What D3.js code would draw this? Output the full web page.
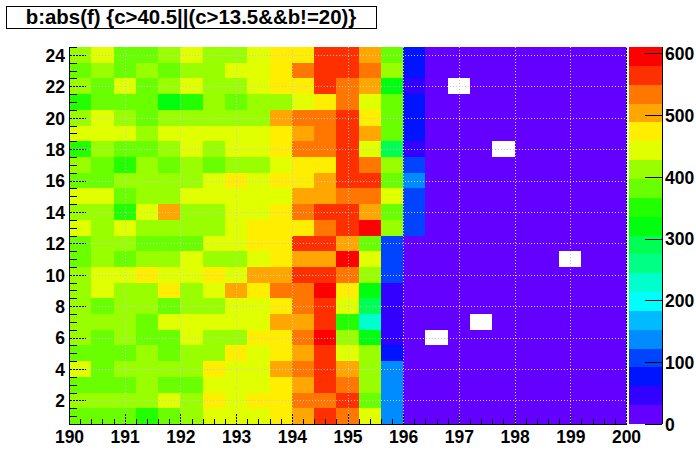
<!DOCTYPE html>
<html>
<head>
<meta charset="utf-8">
<script src="https://cdn.jsdelivr.net/npm/d3@7"></script>
<style>
  body { margin: 0; background: #fff; }
  svg text { font-family: "Liberation Sans", Arial, sans-serif; font-weight: bold; }
</style>
</head>
<body>
<div id="chart"></div>
<script>
const titleText = "b:abs(f) {c>40.5||(c>13.5&&b!=20)}";

// x bins: 25 bins from 190 to 200, y bins: 24 bins from 0.5 to 24.5
const xRange = [190, 200];
const nBinsX = 25;
const yRange = [0.5, 24.5];
const nBinsY = 24;

const xTickLabels = [190, 191, 192, 193, 194, 195, 196, 197, 198, 199, 200];
const yTickLabels = [2, 4, 6, 8, 10, 12, 14, 16, 18, 20, 22, 24];
const zTickLabels = [0, 100, 200, 300, 400, 500, 600];

// bin contents, first row is y = 24, last row is y = 1 (0 = empty bin)
const counts = [
  [409, 441, 384, 377, 415, 438, 406, 412, 446, 471, 476, 566, 560, 505, 379, 72, 18, 14, 16, 12, 15, 17, 13, 15, 11],
  [386, 411, 380, 417, 375, 404, 410, 439, 444, 468, 531, 571, 563, 538, 408, 70, 15, 12, 17, 14, 13, 16, 12, 14, 10],
  [416, 381, 447, 388, 405, 435, 413, 401, 442, 466, 479, 558, 527, 499, 320, 46, 14, 0, 15, 13, 16, 12, 14, 11, 13],
  [352, 377, 385, 372, 318, 349, 414, 383, 407, 419, 449, 470, 536, 436, 389, 78, 16, 13, 12, 15, 14, 11, 17, 13, 12],
  [407, 437, 418, 390, 411, 404, 416, 409, 421, 497, 528, 541, 569, 481, 378, 68, 13, 15, 14, 12, 17, 13, 15, 12, 14],
  [440, 445, 433, 412, 448, 439, 436, 443, 450, 473, 508, 530, 557, 502, 384, 74, 12, 14, 13, 16, 11, 15, 12, 14, 13],
  [347, 415, 379, 386, 410, 447, 406, 437, 441, 465, 534, 527, 572, 440, 291, 43, 15, 13, 14, 0, 12, 16, 13, 15, 12],
  [419, 387, 355, 403, 381, 412, 374, 418, 405, 444, 469, 478, 561, 529, 412, 104, 14, 12, 16, 13, 15, 12, 14, 13, 16],
  [374, 389, 408, 414, 402, 417, 451, 475, 439, 467, 472, 511, 568, 555, 376, 137, 13, 16, 12, 14, 13, 15, 11, 14, 12],
  [443, 435, 382, 409, 413, 440, 445, 431, 447, 449, 506, 499, 540, 531, 437, 108, 16, 13, 15, 12, 14, 13, 16, 12, 15],
  [411, 406, 350, 438, 501, 415, 419, 445, 436, 473, 537, 563, 570, 509, 382, 112, 12, 15, 13, 14, 16, 12, 13, 15, 14],
  [444, 417, 432, 405, 408, 420, 411, 448, 470, 477, 468, 544, 574, 610, 406, 101, 15, 13, 12, 16, 14, 12, 15, 13, 11],
  [380, 413, 419, 377, 391, 386, 440, 434, 476, 464, 567, 559, 504, 388, 99, 14, 12, 15, 13, 16, 14, 12, 13, 15, 14],
  [385, 408, 377, 414, 419, 446, 405, 417, 443, 471, 497, 510, 593, 434, 110, 13, 16, 14, 12, 15, 13, 14, 0, 12, 15],
  [406, 441, 437, 468, 450, 432, 479, 446, 503, 496, 561, 572, 533, 418, 103, 15, 13, 12, 14, 16, 12, 15, 13, 14, 12],
  [420, 434, 409, 413, 480, 402, 448, 511, 466, 539, 526, 598, 474, 322, 48, 12, 14, 13, 15, 12, 16, 13, 14, 12, 13],
  [414, 379, 405, 416, 383, 411, 420, 438, 446, 470, 541, 565, 441, 288, 44, 14, 12, 16, 13, 14, 12, 15, 13, 16, 12],
  [418, 410, 404, 387, 436, 442, 447, 433, 439, 500, 507, 563, 351, 226, 41, 13, 15, 14, 0, 13, 12, 14, 15, 13, 16],
  [403, 386, 415, 374, 390, 449, 408, 419, 468, 481, 535, 601, 410, 317, 47, 12, 0, 13, 15, 14, 12, 16, 13, 12, 14],
  [389, 375, 383, 406, 378, 412, 417, 469, 442, 474, 502, 558, 436, 421, 79, 16, 13, 12, 14, 15, 13, 12, 14, 16, 13],
  [446, 384, 411, 407, 416, 404, 478, 439, 433, 505, 529, 567, 498, 409, 141, 14, 12, 15, 13, 14, 16, 12, 13, 15, 12],
  [376, 388, 381, 412, 373, 390, 437, 444, 441, 470, 509, 562, 532, 415, 133, 13, 15, 12, 16, 13, 14, 12, 15, 13, 14],
  [409, 417, 403, 420, 435, 414, 466, 447, 474, 469, 533, 539, 566, 385, 139, 15, 12, 14, 13, 16, 12, 15, 13, 14, 12],
  [383, 378, 386, 353, 380, 406, 439, 443, 437, 476, 504, 570, 528, 442, 131, 14, 13, 15, 12, 14, 16, 13, 12, 15, 13]
];

const width = 696, height = 472;
const plot = { left: 69, right: 626, top: 47, bottom: 424 };
const nContours = 20;

const svg = d3.select("#chart").append("svg")
  .attr("width", width)
  .attr("height", height);

// ROOT "pretty" palette, 50 colours violet -> red, picked per contour level
function paletteColor(level) {
  const idx = Math.floor((level + 0.99) * 50 / nContours);
  const hue = idx >= 49 ? 0 : 280 - (idx + 1) * 5.6;
  return d3.hsl(hue, 1, 0.5).formatHex();
}

const x = d3.scaleLinear().domain(xRange).range([plot.left, plot.right]);
const y = d3.scaleLinear().domain(yRange).range([plot.bottom, plot.top]);

const zMax = d3.max(counts.flat());
const z = d3.scaleLinear().domain([0, zMax]).range([plot.bottom, plot.top]);
const level = (v) => Math.min(nContours - 1, Math.floor(v / zMax * nContours));

const dx = (xRange[1] - xRange[0]) / nBinsX;
const dy = (yRange[1] - yRange[0]) / nBinsY;

// cells
const cells = [];
counts.forEach((row, r) => {
  row.forEach((v, c) => {
    if (v > 0) cells.push({ x0: xRange[0] + c * dx, y0: yRange[1] - (r + 1) * dy, v: v });
  });
});

svg.append("g")
  .selectAll("rect")
  .data(cells)
  .join("rect")
  .attr("x", (d) => x(d.x0))
  .attr("y", (d) => y(d.y0 + dy))
  .attr("width", (d) => x(d.x0 + dx) - x(d.x0))
  .attr("height", (d) => y(d.y0) - y(d.y0 + dy))
  .attr("fill", (d) => paletteColor(level(d.v)))
  .attr("shape-rendering", "crispEdges");

// axes (ticks point into the frame)
const xMinor = d3.range(0, 51).map((i) => 190 + i * 0.2);
const yMinor = d3.range(0, 49).map((i) => 0.5 + i * 0.5);

svg.append("g")
  .attr("transform", `translate(0,${plot.bottom})`)
  .call(d3.axisBottom(x).tickValues(xMinor).tickSize(-5).tickFormat(""))
  .call((g) => g.select(".domain").remove());

const xAxis = svg.append("g")
  .attr("transform", `translate(0,${plot.bottom})`)
  .call(d3.axisBottom(x).tickValues(xTickLabels).tickSize(-11).tickPadding(7).tickFormat(d3.format("d")));
xAxis.select(".domain").remove();

svg.append("g")
  .attr("transform", `translate(${plot.left},0)`)
  .call(d3.axisLeft(y).tickValues(yMinor).tickSize(-8).tickFormat(""))
  .call((g) => g.select(".domain").remove());

const yAxis = svg.append("g")
  .attr("transform", `translate(${plot.left},0)`)
  .call(d3.axisLeft(y).tickValues(yTickLabels).tickSize(-17).tickPadding(4).tickFormat(d3.format("d")));
yAxis.select(".domain").remove();

svg.selectAll(".tick line").attr("stroke", "#000").attr("shape-rendering", "crispEdges");
xAxis.selectAll("text").attr("font-size", 17.5).attr("fill", "#000");
yAxis.selectAll("text").attr("font-size", 17.5).attr("fill", "#000").attr("dy", "0.36em");

// right edge of the frame, drawn under the grid
svg.append("line")
  .attr("x1", plot.right + 0.5).attr("x2", plot.right + 0.5)
  .attr("y1", plot.top).attr("y2", plot.bottom)
  .attr("stroke", "#000");

// grid
const grid = svg.append("g")
  .attr("stroke", "#c9c9d2")
  .attr("stroke-width", 1)
  .attr("stroke-dasharray", "1,2")
  .attr("shape-rendering", "crispEdges");

grid.selectAll("line.gx")
  .data(xTickLabels.slice(1))
  .join("line")
  .attr("x1", (d) => Math.round(x(d)) + 0.5)
  .attr("x2", (d) => Math.round(x(d)) + 0.5)
  .attr("y1", plot.top)
  .attr("y2", plot.bottom);

grid.selectAll("line.gy")
  .data(yTickLabels)
  .join("line")
  .attr("x1", plot.left)
  .attr("x2", plot.right)
  .attr("y1", (d) => Math.round(y(d)) + 0.5)
  .attr("y2", (d) => Math.round(y(d)) + 0.5);

// frame lines: left and bottom
svg.append("line")
  .attr("x1", plot.left + 0.5).attr("x2", plot.left + 0.5)
  .attr("y1", plot.top).attr("y2", plot.bottom + 0.5)
  .attr("stroke", "#000");
svg.append("line")
  .attr("x1", plot.left).attr("x2", plot.right + 1)
  .attr("y1", plot.bottom + 0.5).attr("y2", plot.bottom + 0.5)
  .attr("stroke", "#000");

// palette (colour bar)
const bar = { left: 629, right: 662 };
const bands = d3.range(nContours);
svg.append("g")
  .selectAll("rect")
  .data(bands)
  .join("rect")
  .attr("x", bar.left)
  .attr("width", bar.right - bar.left)
  .attr("y", (k) => z((k + 1) * zMax / nContours))
  .attr("height", (k) => z(k * zMax / nContours) - z((k + 1) * zMax / nContours))
  .attr("fill", (k) => paletteColor(k))
  .attr("shape-rendering", "crispEdges");

const zAxis = svg.append("g")
  .attr("transform", `translate(${bar.right},0)`)
  .call(d3.axisRight(z).tickValues(zTickLabels).tickSize(-17).tickPadding(3).tickFormat(d3.format("d")));
zAxis.select(".domain").remove();
zAxis.selectAll(".tick line").attr("stroke", "#000").attr("shape-rendering", "crispEdges");
zAxis.selectAll("text").attr("font-size", 17.5).attr("fill", "#000").attr("dy", "0.36em");

svg.append("line")
  .attr("x1", bar.right + 0.5).attr("x2", bar.right + 0.5)
  .attr("y1", plot.top).attr("y2", plot.bottom)
  .attr("stroke", "#000");

// title box
svg.append("rect")
  .attr("x", 6.5).attr("y", 6.5)
  .attr("width", 370).attr("height", 22)
  .attr("fill", "#fff")
  .attr("stroke", "#000");

svg.append("text")
  .attr("x", 191)
  .attr("y", 24)
  .attr("text-anchor", "middle")
  .attr("font-size", 20.4)
  .attr("fill", "#000")
  .text(titleText);
</script>
</body>
</html>
